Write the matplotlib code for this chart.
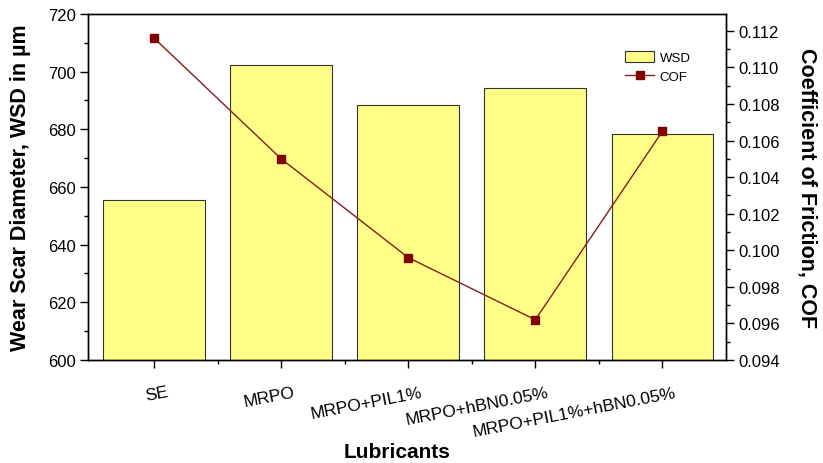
import matplotlib
matplotlib.use("Agg")
import matplotlib.pyplot as plt
import matplotlib.transforms as mtransforms
from matplotlib.ticker import MultipleLocator, FixedLocator
from matplotlib.lines import Line2D
from matplotlib.patches import Patch

plt.rcParams['font.family'] = ['Liberation Sans', 'DejaVu Sans']

# datos
lubricantes = ['SE', 'MRPO', 'MRPO+PIL1%', 'MRPO+hBN0.05%', 'MRPO+PIL1%+hBN0.05%']
wsd = [655.6, 702.1, 688.5, 694.4, 678.4]
cof = [0.1116, 0.1050, 0.0996, 0.0962, 0.1065]

fig = plt.figure(figsize=(8.23, 4.64), dpi=100)
ax = fig.add_axes([0.107, 0.222, 0.775, 0.746])
x = list(range(len(lubricantes)))

ax.bar(x, wsd, width=0.8, color='#FFFF88', edgecolor='#333333', linewidth=0.8, zorder=2)
ax.set_ylim(600, 720)
ax.set_xlim(-0.52, 4.5)
ax.yaxis.set_major_locator(MultipleLocator(20))
ax.yaxis.set_minor_locator(MultipleLocator(10))
ax.set_xticks(x)
ax.xaxis.set_minor_locator(FixedLocator([i + 0.5 for i in x[:-1]]))
ax.tick_params(axis='both', which='major', direction='out', length=5.5, width=1, labelsize=12)
ax.tick_params(axis='both', which='minor', direction='out', length=3, width=1)
ax.tick_params(axis='x', pad=12)
ax.set_xticklabels(lubricantes, rotation=11, ha='right', rotation_mode='anchor', fontsize=12.5)
desplaza = mtransforms.ScaledTranslation(12 / 100, 0, fig.dpi_scale_trans)
for etiqueta in ax.get_xticklabels():
    etiqueta.set_transform(etiqueta.get_transform() + desplaza)

ax.set_ylabel('Wear Scar Diameter, WSD in µm', fontsize=15.5, fontweight='bold', labelpad=12)
ax.set_xlabel('Lubricants', fontsize=15, fontweight='bold')
ax.xaxis.set_label_coords(0.484, -0.238)

ax2 = ax.twinx()
ax2.plot(x, cof, color='#8B1A1A', linewidth=1, marker='s', markersize=6,
         markerfacecolor='#800000', markeredgecolor='#800000', zorder=3)
ax2.set_ylim(0.094, 0.11293)
ax2.yaxis.set_major_locator(MultipleLocator(0.002))
ax2.yaxis.set_minor_locator(MultipleLocator(0.001))
ax2.yaxis.set_major_formatter(plt.FormatStrFormatter('%.3f'))
ax2.tick_params(axis='y', which='major', direction='out', length=5.5, width=1, labelsize=12)
ax2.tick_params(axis='y', which='minor', direction='out', length=3, width=1)
ax2.set_ylabel('Coefficient of Friction, COF', fontsize=15.5, fontweight='bold',
               rotation=270, labelpad=27)

for eje in (ax, ax2):
    for lado in eje.spines.values():
        lado.set_linewidth(1)
        lado.set_color('black')

handles = [Patch(facecolor='#FFFF88', edgecolor='#333333', linewidth=0.8),
           Line2D([0], [0], color='#8B1A1A', linewidth=1, marker='s', markersize=6,
                  markerfacecolor='#800000', markeredgecolor='#800000')]
ax2.legend(handles, ['WSD', 'COF'], loc='upper left', bbox_to_anchor=(0.828, 0.92),
           frameon=False, fontsize=9.5, handlelength=2.2, handleheight=0.9,
           labelspacing=0.45, handletextpad=0.4, borderpad=0.2)

fig.savefig('out.png', dpi=100)
